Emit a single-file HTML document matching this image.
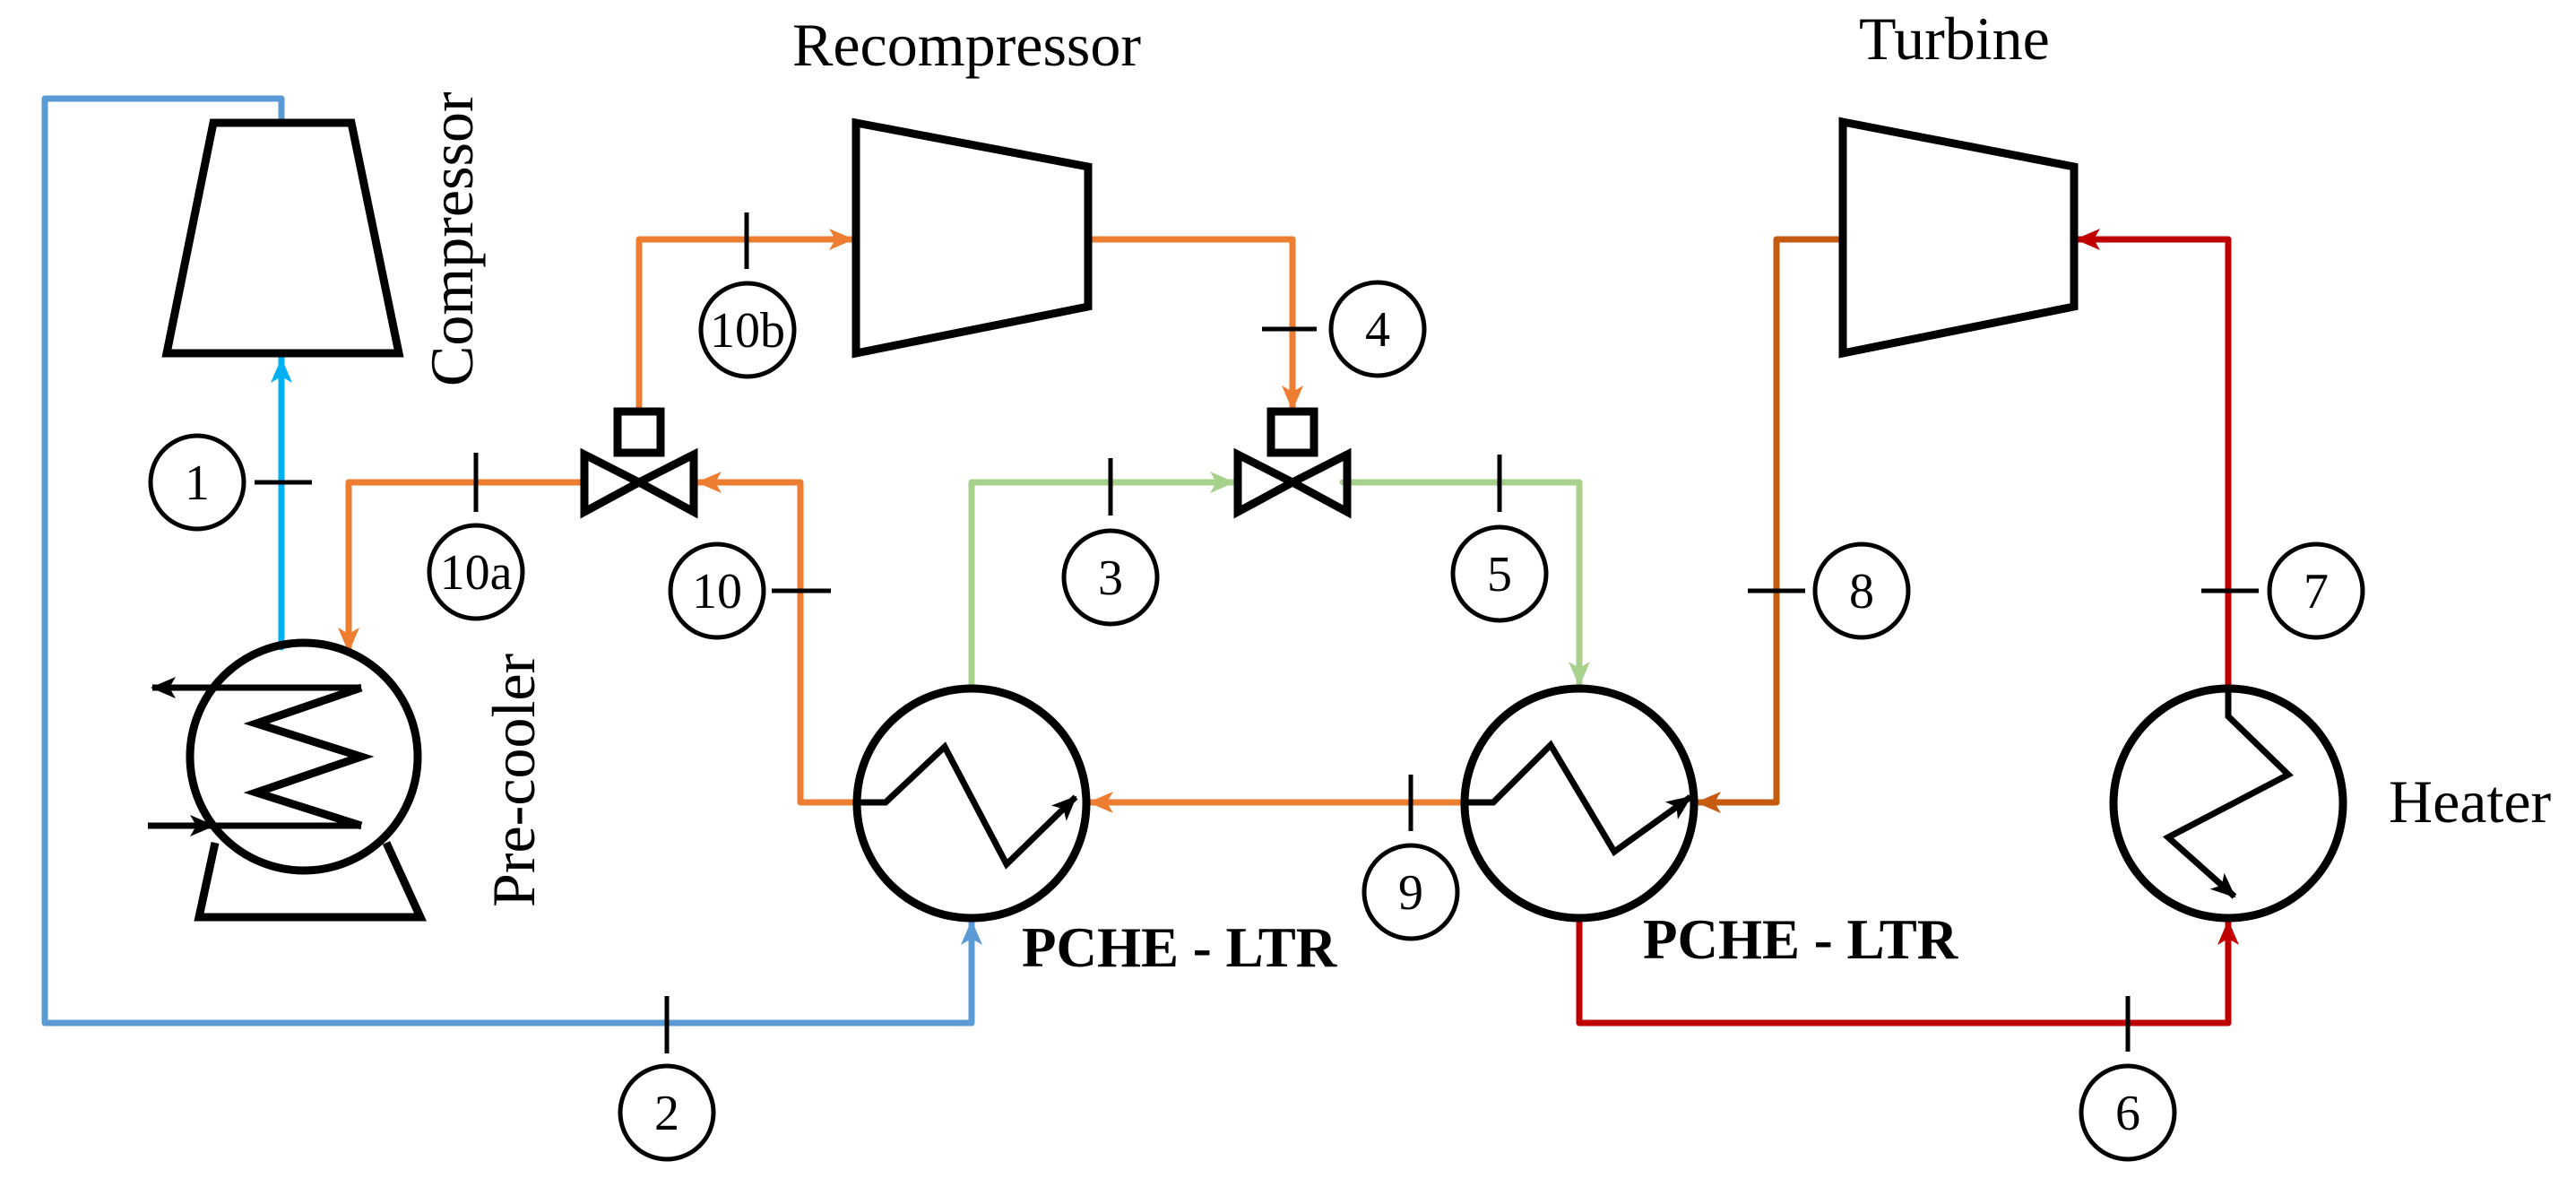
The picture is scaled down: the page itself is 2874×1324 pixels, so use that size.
<!DOCTYPE html>
<html><head><meta charset="utf-8"><style>
html,body{margin:0;padding:0;background:#fff;overflow:hidden;}
svg{display:block;}
text{font-family:"Liberation Serif",serif;fill:#000;}
</style></head><body>
<svg width="2874" height="1324" viewBox="0 0 2874 1324" xmlns="http://www.w3.org/2000/svg">
<defs>
<marker id="aO" markerUnits="userSpaceOnUse" markerWidth="30" markerHeight="24" refX="28" refY="12" orient="auto"><path d="M0,0 L28,12 L0,24 L7,12 Z" fill="#ed7d31"/></marker>
<marker id="aB" markerUnits="userSpaceOnUse" markerWidth="30" markerHeight="24" refX="28" refY="12" orient="auto"><path d="M0,0 L28,12 L0,24 L7,12 Z" fill="#5b9bd5"/></marker>
<marker id="aC" markerUnits="userSpaceOnUse" markerWidth="30" markerHeight="24" refX="28" refY="12" orient="auto"><path d="M0,0 L28,12 L0,24 L7,12 Z" fill="#00b0f0"/></marker>
<marker id="aG" markerUnits="userSpaceOnUse" markerWidth="30" markerHeight="24" refX="28" refY="12" orient="auto"><path d="M0,0 L28,12 L0,24 L7,12 Z" fill="#a9d18e"/></marker>
<marker id="aR" markerUnits="userSpaceOnUse" markerWidth="30" markerHeight="24" refX="28" refY="12" orient="auto"><path d="M0,0 L28,12 L0,24 L7,12 Z" fill="#c00000"/></marker>
<marker id="aW" markerUnits="userSpaceOnUse" markerWidth="30" markerHeight="24" refX="28" refY="12" orient="auto"><path d="M0,0 L28,12 L0,24 L7,12 Z" fill="#c55a11"/></marker>
<marker id="aK" markerUnits="userSpaceOnUse" markerWidth="30" markerHeight="24" refX="26" refY="12" orient="auto"><path d="M0,0 L28,12 L0,24 L7,12 Z" fill="#000"/></marker>
</defs>
<g fill="none" stroke-width="7" stroke-linejoin="round" stroke-linecap="round">
<polyline points="314,137 314,110 50,110 50,1141 1084,1141 1084,1026" stroke="#5b9bd5" marker-end="url(#aB)"/>
<line x1="314" y1="722" x2="314" y2="399" stroke="#00b0f0" marker-end="url(#aC)"/>
<polyline points="713,460 713,267 953,267" stroke="#ed7d31" marker-end="url(#aO)"/>
<polyline points="1214,267 1442,267 1442,458" stroke="#ed7d31" marker-end="url(#aO)"/>
<polyline points="652,538 389,538 389,728" stroke="#ed7d31" marker-end="url(#aO)"/>
<polyline points="958,895 893,895 893,538 777,538" stroke="#ed7d31" marker-end="url(#aO)"/>
<line x1="1634" y1="895" x2="1214" y2="895" stroke="#ed7d31" marker-end="url(#aO)"/>
<polyline points="1084,769 1084,538 1378,538" stroke="#a9d18e" marker-end="url(#aG)"/>
<polyline points="1498,538 1762,538 1762,766" stroke="#a9d18e" marker-end="url(#aG)"/>
<polyline points="2056,267 1982,267 1982,895 1892,895" stroke="#c55a11" marker-end="url(#aW)"/>
<polyline points="2486,769 2486,267 2315,267" stroke="#c00000" marker-end="url(#aR)"/>
<polyline points="1762,1024 1762,1141 2486,1141 2486,1026" stroke="#c00000" marker-end="url(#aR)"/>
</g>
<g fill="none" stroke="#000" stroke-width="9" stroke-linejoin="miter">
<polygon points="238,137 392,137 445,394 186,394"/>
<polygon points="955,137 1214,186 1214,342 955,394"/>
<polygon points="2056,136 2314,186 2314,342 2056,394"/>
<polygon points="652,507 713,538 652,571"/><polygon points="774,507 713,538 774,571"/>
<rect x="689" y="459" width="48" height="46"/>
<polygon points="1381,507 1442,538 1381,571"/><polygon points="1503,507 1442,538 1503,571"/>
<rect x="1418" y="459" width="48" height="46"/>
<circle cx="339" cy="844" r="127"/>
<polyline points="240,940 222,1023 469,1023 431,940"/>
<polyline points="403,767 286,807 403,844 286,884 403,921"/>
<circle cx="1084" cy="896" r="128"/>
<circle cx="1762" cy="896" r="128"/>
<circle cx="2486" cy="896" r="128"/>
</g>
<g fill="none" stroke="#000" stroke-width="7">
<line x1="403" y1="767" x2="170" y2="767" marker-end="url(#aK)"/>
<line x1="165" y1="921" x2="238" y2="921" marker-end="url(#aK)"/>
<line x1="238" y1="921" x2="403" y2="921"/>
<polyline points="958,895 988,895 1054,833 1123,964 1200,889" marker-end="url(#aK)"/>
<polyline points="1634,895 1666,895 1730,831 1801,950 1886,889" marker-end="url(#aK)"/>
<polyline points="2486,769 2486,799 2553,864 2419,934 2493,1000" marker-end="url(#aK)"/>
</g>
<g stroke="#000" stroke-width="5">
<line x1="284" y1="538" x2="348" y2="538"/>
<line x1="744" y1="1111" x2="744" y2="1175"/>
<line x1="531" y1="505" x2="531" y2="571"/>
<line x1="833" y1="237" x2="833" y2="300"/>
<line x1="861" y1="659" x2="927" y2="659"/>
<line x1="1239" y1="511" x2="1239" y2="575"/>
<line x1="1408" y1="367" x2="1469" y2="367"/>
<line x1="1673" y1="507" x2="1673" y2="571"/>
<line x1="1574" y1="864" x2="1574" y2="927"/>
<line x1="1950" y1="659" x2="2014" y2="659"/>
<line x1="2456" y1="659" x2="2520" y2="659"/>
<line x1="2374" y1="1111" x2="2374" y2="1173"/>
</g>
<g fill="none" stroke="#000" stroke-width="5">
<circle cx="220" cy="538" r="52"/><circle cx="744" cy="1241" r="52"/>
<circle cx="531" cy="638" r="52"/><circle cx="834" cy="368" r="52"/>
<circle cx="800" cy="659" r="52"/><circle cx="1239" cy="644" r="52"/>
<circle cx="1537" cy="367" r="52"/><circle cx="1673" cy="640" r="52"/>
<circle cx="1574" cy="995" r="52"/><circle cx="2077" cy="659" r="52"/>
<circle cx="2584" cy="659" r="52"/><circle cx="2374" cy="1241" r="52"/>
</g>
<g font-size="56" text-anchor="middle">
<text x="220" y="557">1</text><text x="744" y="1260">2</text>
<text x="531" y="657">10a</text><text x="834" y="387">10b</text>
<text x="800" y="678">10</text><text x="1239" y="663">3</text>
<text x="1537" y="386">4</text><text x="1673" y="659">5</text>
<text x="1574" y="1014">9</text><text x="2077" y="678">8</text>
<text x="2584" y="678">7</text><text x="2374" y="1260">6</text>
</g>
<g font-size="68">
<text x="884" y="73">Recompressor</text>
<text x="2074" y="66">Turbine</text>
<text x="2665" y="917">Heater</text>
<text transform="translate(527,431) rotate(-90)">Compressor</text>
<text transform="translate(596,1012) rotate(-90)">Pre-cooler</text>
<text x="1140" y="1078" font-weight="bold" font-size="63">PCHE - LTR</text>
<text x="1833" y="1069" font-weight="bold" font-size="63">PCHE - LTR</text>
</g>
</svg>
</body></html>
